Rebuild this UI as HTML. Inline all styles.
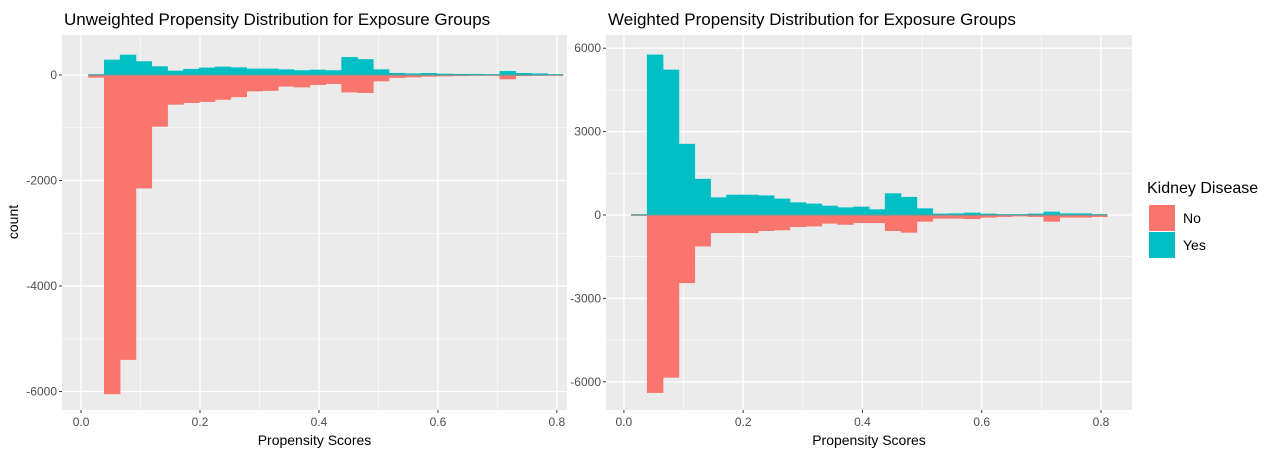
<!DOCTYPE html>
<html><head><meta charset="utf-8"><style>
html,body{margin:0;padding:0;background:#fff;}
svg{display:block;font-family:"Liberation Sans",sans-serif;}
</style></head><body>
<svg id="chart" width="1280" height="462"></svg>
<script>
const binStart = 0.012;
const binWidth = 0.0266;
const leftYes = [5,290,385,260,165,82,115,140,158,145,120,120,107,90,100,90,340,300,107,38,30,38,25,20,20,15,75,38,30,5];
const leftNo  = [50,6050,5400,2150,980,563,530,510,470,420,310,300,220,235,190,170,330,340,120,55,45,32,25,20,13,13,82,20,13,6];
const rightYes = [20,5770,5230,2560,1300,635,730,730,705,590,455,410,335,275,300,205,780,650,240,50,60,84,50,24,24,50,120,60,60,24];
const rightNo  = [20,6400,5850,2450,1130,650,650,650,575,550,430,410,310,350,290,290,575,635,240,130,130,145,95,70,50,70,240,95,95,70];
const xTicks = [0,0.2,0.4,0.6,0.8];
const xTickLabels = ["0.0","0.2","0.4","0.6","0.8"];
const leftYTicks = [0,-2000,-4000,-6000];
const rightYTicks = [6000,3000,0,-3000,-6000];

const NS = "http://www.w3.org/2000/svg";
const svg = document.getElementById('chart');
function mk(tag, attrs, parent, text){
  const e = document.createElementNS(NS, tag);
  for (const k in attrs) e.setAttribute(k, attrs[k]);
  if (text !== undefined) e.textContent = text;
  (parent||svg).appendChild(e);
  return e;
}

function panel(cfg){
  const g = mk('g', {});
  
  
  const {x0,x1,y0,y1,xmin,xmax,ymin,ymax} = cfg;
  const sx = v => x0 + (v - xmin) / (xmax - xmin) * (x1 - x0);
  const sy = v => y1 - (v - ymin) / (ymax - ymin) * (y1 - y0);
  const bg = mk('rect', {x:x0, y:y0, width:x1-x0, height:y1-y0, fill:'#ebebeb'}, g);
  
  
  for (let v = -0.1; v <= xmax; v += 0.2) {
    if (v < xmin) continue;
    mk('line', {x1:sx(v), x2:sx(v), y1:y0, y2:y1, stroke:'#fff', 'stroke-width':0.6}, g);
  }
  const step = cfg.yStep;
  for (let i = Math.ceil(ymin/step*2); i <= Math.floor(ymax/step*2); i++) {
    if (i % 2 === 0) continue;
    const v = i*step/2;
    mk('line', {x1:x0, x2:x1, y1:sy(v), y2:sy(v), stroke:'#fff', 'stroke-width':0.6}, g);
  }
  xTicks.forEach(v => mk('line', {x1:sx(v), x2:sx(v), y1:y0, y2:y1, stroke:'#fff', 'stroke-width':1.3}, g));
  cfg.yTicks.forEach(v => mk('line', {x1:x0, x2:x1, y1:sy(v), y2:sy(v), stroke:'#fff', 'stroke-width':1.3}, g));
  cfg.no.forEach((c, i) => {
    const a = binStart + i*binWidth, b = a + binWidth;
    const r = mk('rect', {x:sx(a), y:sy(0), width:sx(b)-sx(a)+0.6, height:Math.max(sy(-c)-sy(0),0.8), fill:'#f8766d'}, g);
    
    
  });
  cfg.yes.forEach((c, i) => {
    const a = binStart + i*binWidth, b = a + binWidth;
    const h = Math.max(sy(0)-sy(c), 0.8);
    const r = mk('rect', {x:sx(a), y:sy(0)-h, width:sx(b)-sx(a)+0.6, height:h, fill:'#00bfc4'}, g);
    
    
  });
  mk('line', {x1:sx(binStart), x2:sx(binStart+30*binWidth), y1:sy(0), y2:sy(0), stroke:'#5f9ea0', 'stroke-width':1.5, opacity:0.7}, g);
  xTicks.forEach((v, i) => {
    mk('line', {x1:sx(v), x2:sx(v), y1:y1, y2:y1+3, stroke:'#333', 'stroke-width':1}, g);
    const t = mk('text', {x:sx(v), y:y1+16, 'text-anchor':'middle', 'font-size':12, fill:'#4d4d4d'}, g, xTickLabels[i]);
    
    
  });
  cfg.yTicks.forEach(v => {
    mk('line', {x1:x0-3, x2:x0, y1:sy(v), y2:sy(v), stroke:'#333', 'stroke-width':1}, g);
    const t = mk('text', {x:x0-5, y:sy(v)+4, 'text-anchor':'end', 'font-size':12, fill:'#4d4d4d'}, g, String(v));
    
    
  });
  const xt = mk('text', {x:(x0+x1)/2, y:y1+35, 'text-anchor':'middle', 'font-size':14, fill:'#000'}, g, 'Propensity Scores');
  
  
  const tt = mk('text', {x:x0+2, y:25, 'font-size':17, fill:'#000'}, g, cfg.title);
  
  
}

panel({name:'unweighted-panel', x0:62, x1:567, y0:35, y1:410, xmin:-0.032, xmax:0.817, ymin:-6350, ymax:758,
  yStep:2000, yTicks:leftYTicks, yes:leftYes, no:leftNo, title:'Unweighted Propensity Distribution for Exposure Groups'});
panel({name:'weighted-panel', x0:606, x1:1132, y0:35, y1:410, xmin:-0.03, xmax:0.852, ymin:-7014, ymax:6475,
  yStep:3000, yTicks:rightYTicks, yes:rightYes, no:rightNo, title:'Weighted Propensity Distribution for Exposure Groups'});

const yt = mk('text', {x:0, y:0, 'text-anchor':'middle', 'font-size':14, transform:'translate(18,222) rotate(-90)'}, svg, 'count');



const lg = mk('g', {});


mk('text', {x:1147, y:193, 'font-size':16}, lg, 'Kidney Disease');
const k1 = mk('rect', {x:1149, y:205, width:26, height:26, fill:'#f8766d'}, lg);


const k2 = mk('rect', {x:1149, y:232, width:26, height:26, fill:'#00bfc4'}, lg);


mk('text', {x:1183, y:223, 'font-size':14}, lg, 'No');
mk('text', {x:1183, y:250, 'font-size':14}, lg, 'Yes');
</script>
</body></html>
